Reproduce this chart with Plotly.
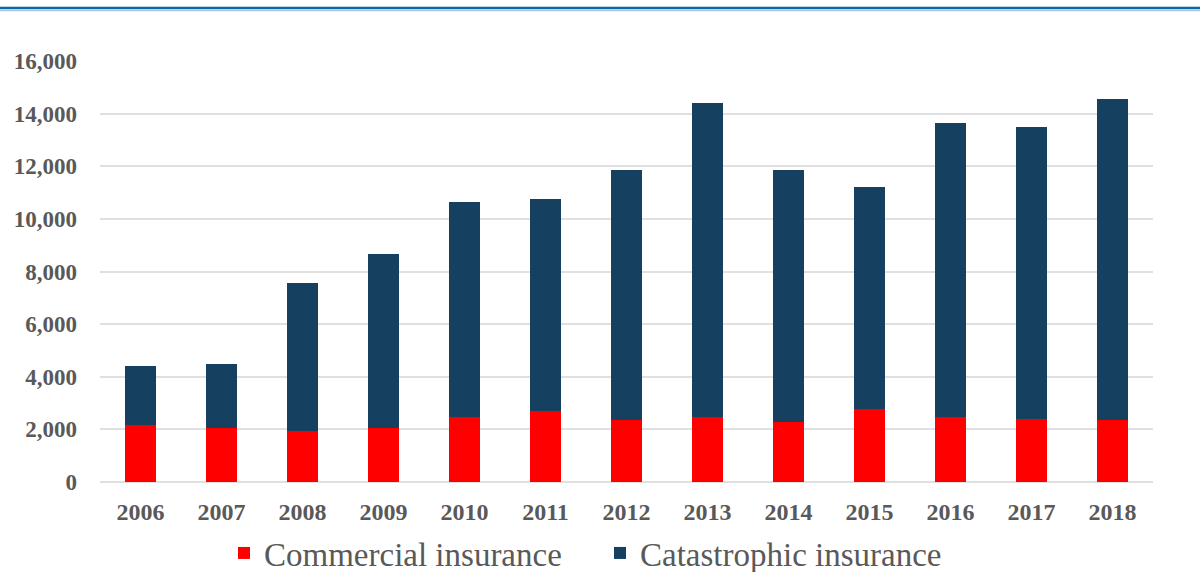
import plotly.graph_objects as go

years = ["2006", "2007", "2008", "2009", "2010", "2011", "2012",
         "2013", "2014", "2015", "2016", "2017", "2018"]
commercial = [2150, 2040, 1950, 2040, 2470, 2690, 2370, 2470, 2270, 2790, 2485, 2410, 2355]
catastrophic = [2250, 2430, 5610, 6610, 8160, 8070, 9480, 11930, 9580, 8425, 11175, 11095, 12195]
y_ticks = [0, 2000, 4000, 6000, 8000, 10000, 12000, 14000, 16000]
y_labels = ["0", "2,000", "4,000", "6,000", "8,000", "10,000", "12,000", "14,000", "16,000"]

W, H = 1200, 572
L, R, T, B = 100, 47, 61, 90
ph = H - T - B
pw = W - L - R

def py(px):
    return (H - B - px) / ph

def pxx(px):
    return (px - L) / pw

fig = go.Figure()
fig.add_trace(go.Bar(x=years, y=commercial, name="Commercial insurance",
                     marker=dict(color="#ff0000", line=dict(width=0))))
fig.add_trace(go.Bar(x=years, y=catastrophic, name="Catastrophic insurance",
                     marker=dict(color="#16405f", line=dict(width=0))))

serif = "Liberation Serif, Times New Roman, serif"
fig.update_layout(
    barmode="stack",
    bargap=0.62,
    width=W, height=H,
    margin=dict(l=L, r=R, t=T, b=B, autoexpand=False),
    paper_bgcolor="white",
    plot_bgcolor="white",
    font=dict(family=serif, color="#595959"),
    xaxis=dict(
        tickfont=dict(family=serif, size=24, color="#595959", weight="bold"),
        showgrid=False, showline=False, ticks="", ticklabelstandoff=13,
    ),
    yaxis=dict(
        range=[0, 16000], tickvals=y_ticks, ticktext=y_labels,
        tickfont=dict(family=serif, size=23, color="#595959", weight="bold"),
        showgrid=True, gridcolor="#e0e0e0", gridwidth=1.5,
        zeroline=True, zerolinecolor="#e0e0e0", zerolinewidth=1.5,
        showline=False, ticks="", ticklabelstandoff=22,
    ),
    legend=dict(
        orientation="h", x=pxx(600), xanchor="center",
        y=py(553), yanchor="middle",
        font=dict(family=serif, size=33, color="#595959"),
        itemwidth=30, traceorder="normal", entrywidth=331,
    ),
    shapes=[
        dict(type="line", xref="paper", yref="paper",
             x0=pxx(0), x1=pxx(W), y0=py(8), y1=py(8),
             line=dict(color="#0b66a6", width=2.5)),
        dict(type="line", xref="paper", yref="paper",
             x0=pxx(0), x1=pxx(W), y0=py(10.5), y1=py(10.5),
             line=dict(color="#a9c9e2", width=1.5)),
    ],
)

fig.write_html("out.html", config={"displayModeBar": False},
               post_script="document.body.style.margin='0';")
